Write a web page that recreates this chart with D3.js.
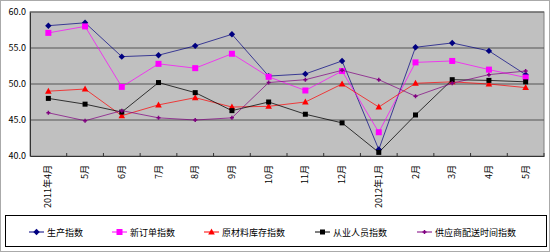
<!DOCTYPE html>
<html>
<head>
<meta charset="utf-8">
<script src="https://cdn.jsdelivr.net/npm/d3@7"></script>
<style>
  body { margin: 0; background: #fff; }
  svg text { font-family: "Noto Sans CJK SC", "DejaVu Sans", sans-serif; }
</style>
</head>
<body>
<div id="chart"></div>
<script>
'use strict';

// categories
const months = ['2011年4月', '5月', '6月', '7月', '8月', '9月', '10月', '11月', '12月',
    '2012年1月', '2月', '3月', '4月', '5月'];

// series values
const production   = [58.1, 58.5, 53.8, 54.0, 55.3, 56.9, 51.1, 51.4, 53.2, 40.9, 55.1, 55.7, 54.6, 51.3];
const newOrders    = [57.1, 58.0, 49.6, 52.8, 52.2, 54.2, 51.0, 49.1, 51.8, 43.3, 53.0, 53.2, 52.0, 50.9];
const rawInventory = [49.0, 49.3, 45.6, 47.1, 48.1, 46.8, 46.9, 47.5, 50.0, 46.8, 50.1, 50.3, 50.0, 49.5];
const employment   = [48.0, 47.2, 46.1, 50.2, 48.8, 46.3, 47.5, 45.8, 44.6, 40.5, 45.7, 50.6, 50.5, 50.3];
const delivery     = [46.0, 44.9, 46.3, 45.3, 45.0, 45.3, 50.2, 50.6, 51.9, 50.6, 48.3, 50.1, 51.3, 51.8];

const seriesNames = ['生产指数', '新订单指数', '原材料库存指数', '从业人员指数', '供应商配送时间指数'];
const yTicks = [40, 45, 50, 55, 60];

const series = [
    {name: seriesNames[0], values: production,   color: '#000080', marker: 'diamond'},
    {name: seriesNames[1], values: newOrders,    color: '#ff00ff', marker: 'square'},
    {name: seriesNames[2], values: rawInventory, color: '#ff0000', marker: 'triangle'},
    {name: seriesNames[3], values: employment,   color: '#000000', marker: 'smallSquare'},
    {name: seriesNames[4], values: delivery,     color: '#800080', marker: 'star'}
];

const W = 550, H = 252;
const plot = {left: 30, top: 12, right: 544, bottom: 156};

const svg = d3.select('#chart').append('svg')
    .attr('width', W)
    .attr('height', H);

// outer frame
svg.append('rect')
    .attr('x', 0.5).attr('y', 0.5)
    .attr('width', W - 1).attr('height', H - 1)
    .attr('fill', '#fff')
    .attr('stroke', '#555')
    .attr('stroke-dasharray', '1,1');

// scales
const x = d3.scaleBand()
    .domain(months.map((m, i) => i))
    .range([plot.left, plot.right]);

const y = d3.scaleLinear()
    .domain([40, 60])
    .range([plot.bottom, plot.top]);

// plot area
svg.append('rect')
    .attr('x', plot.left).attr('y', plot.top)
    .attr('width', plot.right - plot.left)
    .attr('height', plot.bottom - plot.top)
    .attr('fill', '#c0c0c0')
    .attr('stroke', '#808080');

// gridlines
svg.append('g')
    .selectAll('line')
    .data(yTicks.slice(1))
    .join('line')
    .attr('x1', plot.left).attr('x2', plot.right)
    .attr('y1', d => y(d)).attr('y2', d => y(d))
    .attr('stroke', '#555')
    .attr('stroke-width', 1.2);

// y axis
const yAxis = svg.append('g')
    .attr('transform', `translate(${plot.left},0)`)
    .call(d3.axisLeft(y).tickValues(yTicks).tickFormat(d3.format('.1f')).tickSize(0).tickPadding(4));
yAxis.select('.domain').attr('stroke', '#333');
yAxis.selectAll('text')
    .attr('font-size', 9)
    .attr('font-family', '"DejaVu Sans Mono", monospace')
    .attr('fill', '#000');

// x axis
const xAxis = svg.append('g')
    .attr('transform', `translate(0,${plot.bottom})`)
    .call(d3.axisBottom(x).tickSize(0).tickFormat(''));
xAxis.select('.domain').attr('stroke', '#333');

// ticks between categories (pointing up)
svg.append('g')
    .selectAll('line')
    .data(d3.range(1, months.length + 1))
    .join('line')
    .attr('x1', i => x(i - 1) + x.bandwidth())
    .attr('x2', i => x(i - 1) + x.bandwidth())
    .attr('y1', plot.bottom)
    .attr('y2', plot.bottom - 3)
    .attr('stroke', '#333');

// x labels, rotated
svg.append('g')
    .selectAll('text')
    .data(months)
    .join('text')
    .attr('transform', (d, i) => `translate(${x(i) + x.bandwidth() / 2 + 3},${plot.bottom + 9}) rotate(-90)`)
    .attr('text-anchor', 'end')
    .attr('font-size', 9)
    .attr('fill', '#000')
    .text(d => d);

// marker drawing
function drawMarker(g, type, color) {
    if (type === 'diamond') {
        g.append('path').attr('d', 'M0,-3.2L3.2,0L0,3.2L-3.2,0Z').attr('fill', color);
    } else if (type === 'square') {
        g.append('rect').attr('x', -3).attr('y', -3).attr('width', 6).attr('height', 6).attr('fill', color);
    } else if (type === 'smallSquare') {
        g.append('rect').attr('x', -2.5).attr('y', -2.5).attr('width', 5).attr('height', 5).attr('fill', color);
    } else if (type === 'triangle') {
        g.append('path').attr('d', 'M0,-3.5L3.3,2.5L-3.3,2.5Z').attr('fill', color);
    } else {
        g.append('path').attr('d', 'M-2,0L2,0M0,-2L0,2').attr('stroke', color).attr('stroke-width', 1.5);
    }
}

const line = d3.line()
    .x((d, i) => x(i) + x.bandwidth() / 2)
    .y(d => y(d));

series.forEach((s) => {
    const g = svg.append('g');
    g.append('path')
        .datum(s.values)
        .attr('d', line)
        .attr('fill', 'none')
        .attr('stroke', s.color)
        .attr('stroke-opacity', s.color === '#000000' ? 0.75 : 0.7)
        .attr('stroke-width', 1);
    g.selectAll('g')
        .data(s.values)
        .join('g')
        .attr('transform', (d, i) => `translate(${x(i) + x.bandwidth() / 2},${y(d)})`)
        .each(function() { drawMarker(d3.select(this), s.marker, s.color); });
});

// legend
svg.append('rect')
    .attr('x', 5.5).attr('y', 215.5)
    .attr('width', 541).attr('height', 31)
    .attr('fill', '#fff')
    .attr('stroke', '#000');

const legendX = [29, 112, 204, 315, 417];
series.forEach((s, i) => {
    const g = svg.append('g').attr('transform', `translate(${legendX[i]},232)`);
    g.append('line').attr('x1', 0).attr('x2', 15).attr('stroke', s.color);
    drawMarker(g.append('g').attr('transform', 'translate(7.5,0)'), s.marker, s.color);
    g.append('text')
        .attr('x', 18).attr('y', 3.5)
        .attr('font-size', 9)
        .attr('fill', '#000')
        .text(s.name);
});
</script>
</body>
</html>
